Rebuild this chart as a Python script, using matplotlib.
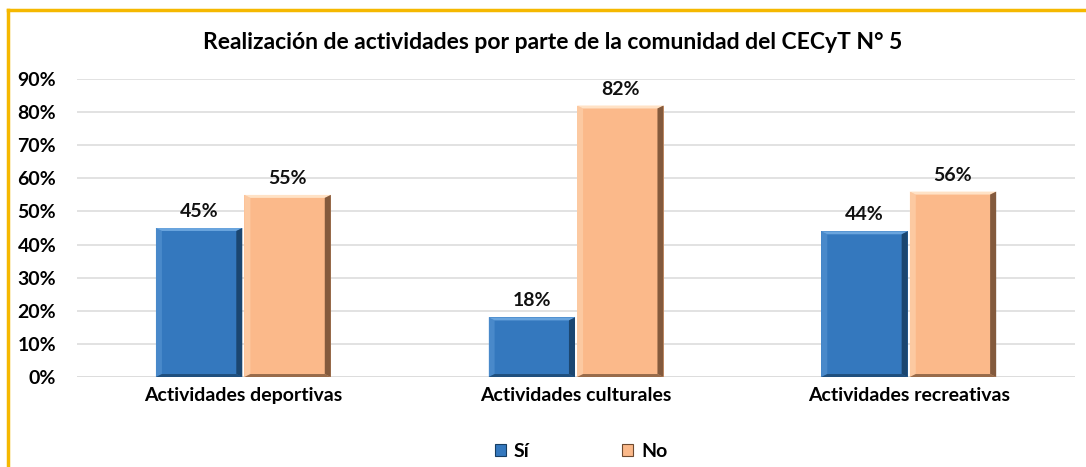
import numpy as np
import matplotlib.pyplot as plt
from matplotlib.patches import Polygon, Patch
from matplotlib.lines import Line2D

categories = ["Actividades deportivas", "Actividades culturales", "Actividades recreativas"]
series_names = ["Sí", "No"]
si_values = [0.45, 0.18, 0.44]
no_values = [0.55, 0.82, 0.56]
yticks = [0.0, 0.1, 0.2, 0.3, 0.4, 0.5, 0.6, 0.7, 0.8, 0.9]

# fill, light edge, dark edge
palette = {
    "Sí": ("#3478BE", "#6AA5DE", "#173E63"),
    "No": ("#FBB98A", "#FFE2C6", "#6E4A30"),
}

plt.rcParams['font.family'] = ['Lato', 'DejaVu Sans']
plt.rcParams['font.weight'] = 'bold'

fig = plt.figure(figsize=(10.86, 4.67), dpi=100)
ax = fig.add_axes([0.0709, 0.1927, 0.919, 0.6381])

x = np.arange(len(categories))
w = 0.26


def bevel_bars(xs, vals, color_set):
    fill, light, dark = color_set
    bars = ax.bar(xs, vals, w, color=fill, edgecolor="none", zorder=2)
    for b in bars:
        x0, y0 = b.get_x(), b.get_y()
        x1, y1 = x0 + b.get_width(), y0 + b.get_height()
        dx = b.get_width() * 0.07
        dy = 0.009
        # top and left light, right and bottom dark
        ax.add_patch(Polygon([(x0, y1), (x1, y1), (x1 - dx, y1 - dy), (x0 + dx, y1 - dy)],
                             closed=True, color=light, lw=0, zorder=3))
        ax.add_patch(Polygon([(x0, y0), (x0, y1), (x0 + dx, y1 - dy), (x0 + dx, y0 + dy)],
                             closed=True, color=light, alpha=0.4, lw=0, zorder=3))
        ax.add_patch(Polygon([(x1, y0), (x1, y1), (x1 - dx, y1 - dy), (x1 - dx, y0 + dy)],
                             closed=True, color=dark, alpha=0.85, lw=0, zorder=3))
        ax.add_patch(Polygon([(x0, y0), (x1, y0), (x1 - dx, y0 + dy), (x0 + dx, y0 + dy)],
                             closed=True, color=dark, alpha=0.7, lw=0, zorder=3))
        ax.text(b.get_x() + b.get_width() / 2, y1 + 0.024, f"{round(b.get_height() * 100):.0f}%",
                ha="center", va="bottom", fontsize=14, fontweight="bold", color="#111111")
    return bars


bevel_bars(x - w / 2 - 0.003, si_values, palette["Sí"])
bevel_bars(x + w / 2 + 0.003, no_values, palette["No"])

ax.set_xlim(-0.5, 2.5)
ax.set_ylim(0, 0.9)
ax.set_yticks(yticks)
ax.set_yticklabels([f"{int(round(t * 100))}%" for t in yticks], fontsize=14, fontweight="bold")
ax.set_xticks(x)
ax.set_xticklabels(categories, fontsize=14, fontweight="bold")
ax.tick_params(length=0, pad=7)
ax.tick_params(axis="y", pad=15)
ax.grid(axis="y", color="#DDDDDD", lw=1.2, zorder=0)
ax.axhline(0, color="#D9D9D9", lw=1.2, zorder=1)
for s in ax.spines.values():
    s.set_visible(False)

fig.text(0.509, 0.91, "Realización de actividades por parte de la comunidad del CECyT N° 5",
         ha="center", va="center", fontsize=16.5, fontweight="bold")

handles = [Patch(facecolor=palette[n][0], edgecolor=palette[n][2], lw=0.8) for n in series_names]
fig.legend(handles, series_names, loc="center", bbox_to_anchor=(0.535, 0.033), ncol=2,
           frameon=False, handlelength=0.55, handleheight=0.55,
           columnspacing=4.8, handletextpad=0.4, prop={'weight': 'bold', 'size': 14})

# yellow frame edges (top and left)
fig.add_artist(Line2D([0.0075, 1.0], [0.979, 0.979], color="#F5B800", lw=2.5, transform=fig.transFigure))
fig.add_artist(Line2D([0.0075, 0.0075], [0.0, 0.979], color="#F5B800", lw=2.5, transform=fig.transFigure))

fig.savefig("out.png", dpi=100)
